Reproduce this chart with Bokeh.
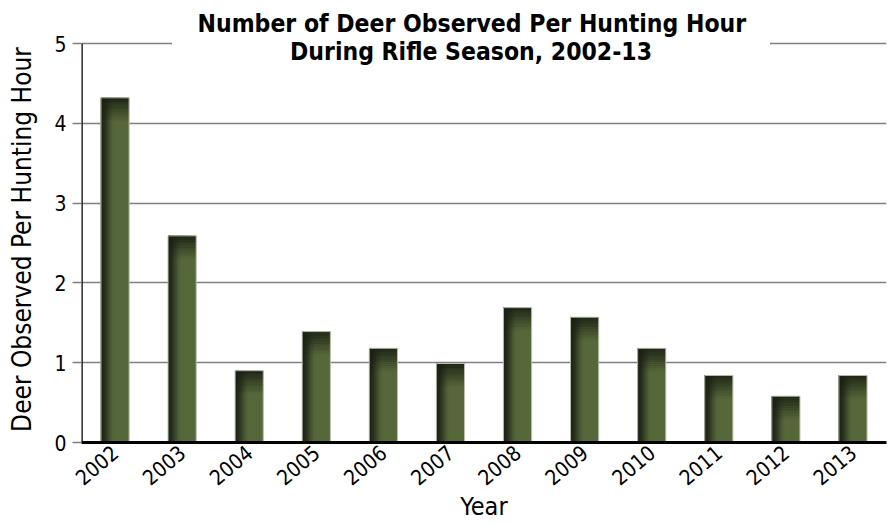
from bokeh.plotting import figure
from bokeh.models import FactorRange, Range1d, Label, FixedTicker, ColumnDataSource
from bokeh.transform import dodge
from bokeh.embed import file_html
from bokeh.resources import INLINE

# ---- data ----
years = ["2002", "2003", "2004", "2005", "2006", "2007",
         "2008", "2009", "2010", "2011", "2012", "2013"]
deer_per_hour = [4.32, 2.59, 0.90, 1.39, 1.18, 0.99,
                 1.69, 1.57, 1.18, 0.84, 0.58, 0.84]
y_ticks = [0, 1, 2, 3, 4, 5]
title_line1 = "Number of Deer Observed Per Hunting Hour"
title_line2 = "During Rifle Season, 2002-13"
x_label = "Year"
y_label = "Deer Observed Per Hunting Hour"

FONT = "DejaVu Sans Condensed, Liberation Sans"
Y_MAX = 5
Y_TOP = 5.088  # a little room above the top gridline for the second title line

p = figure(width=890, height=524,
           x_range=FactorRange(*years, range_padding=0),
           y_range=Range1d(0, Y_TOP),
           output_backend="svg", toolbar_location=None,
           min_border_left=81, min_border_right=4,
           min_border_top=36, min_border_bottom=82)
p.outline_line_color = None
p.background_fill_color = "white"
p.border_fill_color = "white"

# first title line as the figure title
p.title.text = title_line1
p.title.text_font = FONT
p.title.text_font_size = "24.5px"
p.title.text_font_style = "bold"
p.title.text_color = "black"
p.title.align = "left"
p.title.offset = 116
p.title.standoff = -2

src = ColumnDataSource(dict(year=years, v=deer_per_hour))

# bars: stacked left-anchored layers imitate the horizontal shading
BAR_W = 0.42
N = 16
dark = (26, 32, 20)
green = (86, 104, 58)


def mix(a, b, t):
    return "#%02x%02x%02x" % tuple(int(round(a[i] + (b[i] - a[i]) * t)) for i in range(3))


for i in range(N):
    f = 1.0 - i / N
    t = (N - 1 - i + 0.5) / N
    s = min(1.0, t / 0.5)
    s = s * s * (3 - 2 * s)
    col = mix(dark, green, 0.05 + 0.95 * s)
    w = BAR_W * f
    off = -BAR_W / 2 + w / 2
    p.vbar(x=dodge("year", off, range=p.x_range), top="v", bottom=0,
           width=w, source=src, fill_color=col, line_color=None)

# darkening at the top of each bar
M = 12
h = 0.024
for k in range(M):
    tops = [v - k * h for v in deer_per_hour]
    bots = [v - (k + 1) * h - 0.004 for v in deer_per_hour]
    a = 0.88 * (1 - k / M) ** 1.2
    p.vbar(x=years, top=tops, bottom=bots, width=BAR_W,
           fill_color="#1a2014", fill_alpha=a, line_color=None)

# thin light outline
p.vbar(x="year", top="v", bottom=0, width=BAR_W, source=src,
       fill_alpha=0, line_color="#b8bfac", line_width=1)

# y axis line stops at the top gridline
p.segment(x0=[0], y0=[0], x1=[0], y1=[Y_MAX], line_color="black", line_width=2.5)

# axes
p.yaxis.ticker = FixedTicker(ticks=y_ticks)
p.yaxis.minor_tick_line_color = None
p.yaxis.major_tick_out = 9
p.yaxis.major_tick_in = 0
p.yaxis.major_tick_line_color = "#808080"
p.yaxis.major_tick_line_width = 1.5
p.yaxis.axis_line_color = None
p.yaxis.major_label_text_font = FONT
p.yaxis.major_label_text_font_size = "21px"
p.yaxis.major_label_text_color = "black"
p.yaxis.major_label_standoff = 6
p.yaxis.axis_label = y_label
p.yaxis.axis_label_text_font = FONT
p.yaxis.axis_label_text_font_style = "normal"
p.yaxis.axis_label_text_font_size = "26px"
p.yaxis.axis_label_text_color = "black"
p.yaxis.axis_label_standoff = 14

p.xaxis.major_tick_line_color = None
p.xaxis.minor_tick_line_color = None
p.xaxis.axis_line_color = "black"
p.xaxis.axis_line_width = 3
p.xaxis.major_label_orientation = 0.7
p.xaxis.major_label_text_font = FONT
p.xaxis.major_label_text_font_size = "21px"
p.xaxis.major_label_text_color = "black"
p.xaxis.major_label_standoff = 1
p.xaxis.axis_label = x_label
p.xaxis.axis_label_text_font = FONT
p.xaxis.axis_label_text_font_style = "normal"
p.xaxis.axis_label_text_font_size = "25px"
p.xaxis.axis_label_text_color = "black"
p.xaxis.axis_label_standoff = -4

p.xgrid.grid_line_color = None
p.ygrid.ticker = FixedTicker(ticks=y_ticks[1:])
p.ygrid.grid_line_color = "#808080"
p.ygrid.grid_line_width = 1.5

# second title line; its white box interrupts the top gridline
t2 = Label(x=6, y=Y_MAX, x_offset=-13, y_offset=-8, text=title_line2,
           text_align="center", text_baseline="alphabetic", text_font=FONT,
           text_font_style="bold", text_font_size="24.5px", text_color="black",
           background_fill_color="white", padding=(118, 0))
p.add_layout(t2)

open("out.html", "w").write(file_html(p, INLINE))
